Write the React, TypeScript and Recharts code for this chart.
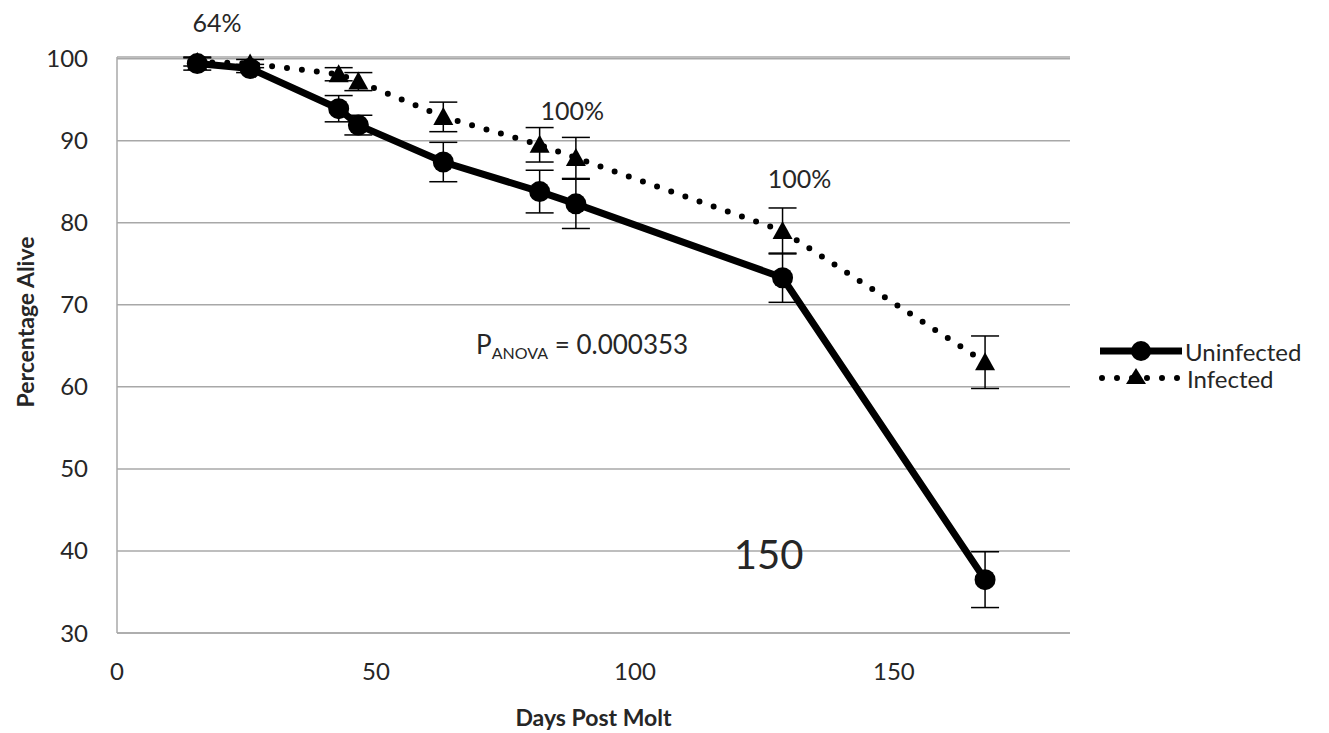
import React from 'react';
import { LineChart, Line, XAxis, YAxis, CartesianGrid, ErrorBar, ReferenceDot } from 'recharts';

const days = [15.5, 25.7, 42.8, 46.6, 63, 81.6, 88.6, 128.5, 167.6];
const uninfected = [99.4, 98.8, 93.9, 91.9, 87.4, 83.8, 82.3, 73.3, 36.5];
const uninfectedErr = [0.8, 0.5, 1.6, 1.2, 2.4, 2.6, 3.0, 3.0, 3.4];
const infected = [99.6, 99.4, 98.1, 97.2, 92.9, 89.5, 87.9, 79.0, 63.0];
const infectedErr = [0.5, 0.5, 0.8, 1.1, 1.8, 2.1, 2.5, 2.8, 3.2];
const xTicks = [0, 50, 100, 150];
const yTicks = [30, 40, 50, 60, 70, 80, 90, 100];
const seriesNames = ['Uninfected', 'Infected'];

const rows = days.map((d, i) => ({
  day: d,
  uninfected: uninfected[i],
  uErr: uninfectedErr[i],
  infected: infected[i],
  iErr: infectedErr[i],
}));

const FONT = 'Lato, "Open Sans", sans-serif';
const GRID = '#a8a8a8';
const TXT = '#262626';

const Triangle = (props: any) => {
  const { cx, cy } = props;
  if (cx == null || cy == null) return null;
  const s = 10;
  return <polygon points={`${cx},${cy - s} ${cx + s},${cy + s * 0.8} ${cx - s},${cy + s * 0.8}`} fill="#000" />;
};

const Circle = (props: any) => {
  const { cx, cy } = props;
  if (cx == null || cy == null) return null;
  return <circle cx={cx} cy={cy} r={10.5} fill="#000" />;
};

const textLabel = (value: string, size: number) => (p: any) => {
  const vb = p.viewBox || {};
  const cx = vb.cx != null ? vb.cx : vb.x + (vb.width || 0) / 2;
  const cy = vb.cy != null ? vb.cy : vb.y + (vb.height || 0) / 2;
  return (
    <text x={cx} y={cy} textAnchor="middle" dominantBaseline="central" fontSize={size} fill={TXT} fontFamily={FONT}>
      {value}
    </text>
  );
};

const anovaLabel = (p: any) => {
  const vb = p.viewBox || {};
  const cx = vb.cx != null ? vb.cx : vb.x;
  const cy = vb.cy != null ? vb.cy : vb.y;
  return (
    <text x={cx} y={cy} textAnchor="middle" fontSize={26} fill={TXT} fontFamily={FONT} dominantBaseline="central">
      <tspan>P</tspan>
      <tspan fontSize={16} dy={8}>ANOVA</tspan>
      <tspan dy={-8}> = 0.000353</tspan>
    </text>
  );
};

const yTitle = () => {
  const x = 25;
  const y = 322;
  return (
    <text x={x} y={y} transform={`rotate(-90 ${x} ${y})`} textAnchor="middle" dominantBaseline="central" fontSize={23} fontWeight="bold" fill={TXT} fontFamily={FONT}>
      Percentage Alive
    </text>
  );
};

const LegendBox = () => (
  <svg width={240} height={70} style={{ position: 'absolute', left: 1096, top: 337 }}>
    <line x1={4} y1={14} x2={86} y2={14} stroke="#000" strokeWidth={7} />
    <circle cx={45} cy={14} r={10} fill="#000" />
    <text x={89} y={14} dominantBaseline="central" fontSize={24} fill={TXT} fontFamily={FONT}>{seriesNames[0]}</text>
    <line x1={6} y1={41} x2={86} y2={41} stroke="#000" strokeWidth={6} strokeDasharray="0 15" strokeLinecap="round" />
    <polygon points="40,31 50,47 30,47" fill="#000" />
    <text x={91} y={41} dominantBaseline="central" fontSize={24} fill={TXT} fontFamily={FONT}>{seriesNames[1]}</text>
  </svg>
);

export default function App() {
  return (
    <div style={{ position: 'absolute', left: 0, top: 0, width: 1329, height: 733, background: '#fff', fontFamily: FONT }}>
      <LineChart width={1329} height={733} data={rows} margin={{ top: 57, right: 259, bottom: 0, left: 0 }}>
        <CartesianGrid horizontal vertical={false} stroke={GRID} strokeWidth={1.5} />
        <XAxis
          type="number"
          dataKey="day"
          domain={[0, 184]}
          ticks={xTicks}
          height={100}
          axisLine={{ stroke: GRID, strokeWidth: 1.5 }}
          tickLine={false}
          tickSize={0}
          tickMargin={30}
          tick={{ fill: TXT, fontSize: 24, fontFamily: FONT }}
          label={{ value: 'Days Post Molt', position: 'insideBottom', offset: 7, fontSize: 23, fontWeight: 'bold', fill: TXT, fontFamily: FONT }}
        />
        <YAxis
          type="number"
          domain={[30, 100]}
          ticks={yTicks}
          width={117}
          axisLine={{ stroke: GRID, strokeWidth: 1.5 }}
          tickLine={false}
          tickSize={0}
          tickMargin={29}
          tick={{ fill: TXT, fontSize: 24, fontFamily: FONT }}
          label={yTitle}
        />
        <Line
          type="linear"
          dataKey="infected"
          name={seriesNames[1]}
          stroke="#000"
          strokeWidth={6}
          strokeDasharray="0 15"
          strokeLinecap="round"
          dot={<Triangle />}
          activeDot={false}
          isAnimationActive={false}
        >
          <ErrorBar dataKey="iErr" direction="y" width={14} stroke="#000" strokeWidth={1.5} />
        </Line>
        <Line
          type="linear"
          dataKey="uninfected"
          name={seriesNames[0]}
          stroke="#000"
          strokeWidth={7}
          dot={<Circle />}
          activeDot={false}
          isAnimationActive={false}
        >
          <ErrorBar dataKey="uErr" direction="y" width={14} stroke="#000" strokeWidth={1.5} />
        </Line>
        <ReferenceDot x={19.3} y={104.5} r={0} ifOverflow="visible" label={textLabel('64%', 25)} />
        <ReferenceDot x={87.9} y={93.8} r={0} ifOverflow="visible" label={textLabel('100%', 25)} />
        <ReferenceDot x={131.8} y={85.4} r={0} ifOverflow="visible" label={textLabel('100%', 25)} />
        <ReferenceDot x={125.8} y={39.6} r={0} ifOverflow="visible" label={textLabel('150', 40)} />
        <ReferenceDot x={89.8} y={65.2} r={0} ifOverflow="visible" label={anovaLabel} />
      </LineChart>
      <LegendBox />
    </div>
  );
}
